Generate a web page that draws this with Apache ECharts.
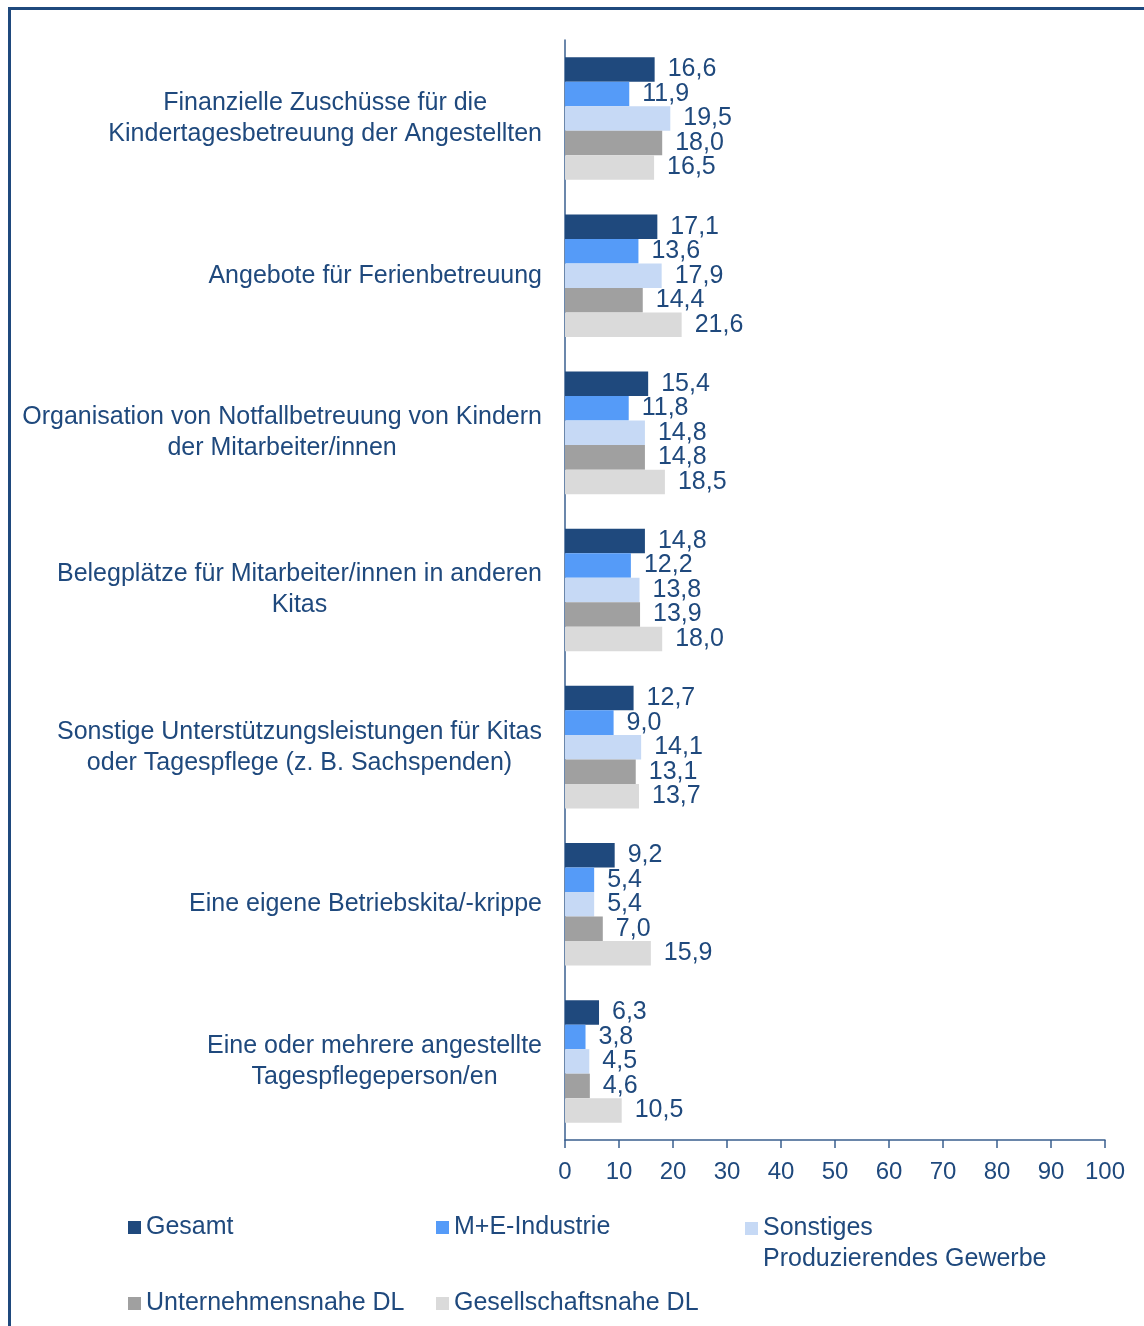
<!DOCTYPE html>
<html>
<head>
<meta charset="utf-8">
<script src="https://cdn.jsdelivr.net/npm/echarts@6/dist/echarts.min.js"></script>
<style>
  html, body { margin: 0; padding: 0; background: #fff; }
  #chart { width: 1144px; height: 1326px; }
  #frame {
    position: absolute; left: 8px; top: 7px; width: 1200px; height: 1400px;
    border-top: 3px solid #1f497d; border-left: 3px solid #1f497d;
    pointer-events: none;
  }
</style>
</head>
<body>
<div id="chart"></div>
<div id="frame"></div>
<script>
const categories = [
  'Finanzielle Zuschüsse für die\nKindertagesbetreuung der Angestellten',
  'Angebote für Ferienbetreuung',
  'Organisation von Notfallbetreuung von Kindern\nder Mitarbeiter/innen',
  'Belegplätze für Mitarbeiter/innen in anderen\nKitas',
  'Sonstige Unterstützungsleistungen für Kitas\noder Tagespflege (z. B. Sachspenden)',
  'Eine eigene Betriebskita/-krippe',
  'Eine oder mehrere angestellte\nTagespflegeperson/en'
];
const seriesNames = ['Gesamt', 'M+E-Industrie', 'Sonstiges Produzierendes Gewerbe', 'Unternehmensnahe DL', 'Gesellschaftsnahe DL'];
const gesamt = [16.6, 17.1, 15.4, 14.8, 12.7, 9.2, 6.3];
const meIndustrie = [11.9, 13.6, 11.8, 12.2, 9.0, 5.4, 3.8];
const sonstiges = [19.5, 17.9, 14.8, 13.8, 14.1, 5.4, 4.5];
const unternehmensnah = [18.0, 14.4, 14.8, 13.9, 13.1, 7.0, 4.6];
const gesellschaftsnah = [16.5, 21.6, 18.5, 18.0, 13.7, 15.9, 10.5];
const colors = ['#1f497d', '#559bf8', '#c6d9f5', '#a0a0a0', '#dadada'];

const textColor = '#1f497d';
const font = "'Liberation Sans', Arial, sans-serif";

const chart = echarts.init(document.getElementById('chart'));

const dataSets = [gesamt, meIndustrie, sonstiges, unternehmensnah, gesellschaftsnah];

const series = dataSets.map((d, i) => ({
  name: seriesNames[i],
  type: 'bar',
  data: d,
  barGap: '0%',
  barCategoryGap: '22%',
  itemStyle: { color: colors[i] },
  label: {
    show: true,
    position: 'right',
    distance: 13,
    color: textColor,
    fontFamily: font,
    fontSize: 25,
    formatter: p => p.value.toFixed(1).replace('.', ',')
  }
}));

// one legend per item to get the column layout
const legendPos = [
  { left: 128, top: 1212 },
  { left: 436, top: 1212 },
  { left: 745, top: 1182 },
  { left: 128, top: 1288 },
  { left: 436, top: 1288 }
];
const legends = seriesNames.map((n, i) => ({
  data: [n],
  left: legendPos[i].left,
  top: legendPos[i].top,
  padding: 0,
  itemWidth: 13,
  itemHeight: 13,
  icon: 'rect',
  selectedMode: false,
  // blank first line keeps the icon next to "Sonstiges"
  formatter: i === 2 ? ' \nSonstiges\nProduzierendes Gewerbe' : '{name}',
  textStyle: {
    color: textColor,
    fontFamily: font,
    fontSize: 25,
    lineHeight: 31
  }
}));

chart.setOption({
  animation: false,
  textStyle: { fontFamily: font },
  legend: legends,
  grid: { left: 565, right: 39, top: 40, bottom: 186 },
  xAxis: {
    type: 'value',
    min: 0,
    max: 100,
    interval: 10,
    axisLine: { show: true, lineStyle: { color: '#3a5f8f', width: 1.5 } },
    axisTick: { show: true, length: 8, lineStyle: { color: '#3a5f8f', width: 1.5 } },
    splitLine: { show: false },
    axisLabel: { color: textColor, fontSize: 24, fontFamily: font, margin: 20 }
  },
  yAxis: {
    type: 'category',
    inverse: true,
    data: categories,
    axisLine: { show: true, lineStyle: { color: '#3a5f8f', width: 1.5 } },
    axisTick: { show: false },
    axisLabel: {
      color: textColor,
      fontSize: 25,
      fontFamily: font,
      margin: 23,
      align: 'right',
      lineHeight: 31,
      formatter: v => v.split('\n').map(s => '{c|' + s + '}').join('\n'),
      rich: {
        c: { align: 'center', color: textColor, fontSize: 25, fontFamily: font, lineHeight: 31 }
      }
    }
  },
  series: series
});
</script>
</body>
</html>
